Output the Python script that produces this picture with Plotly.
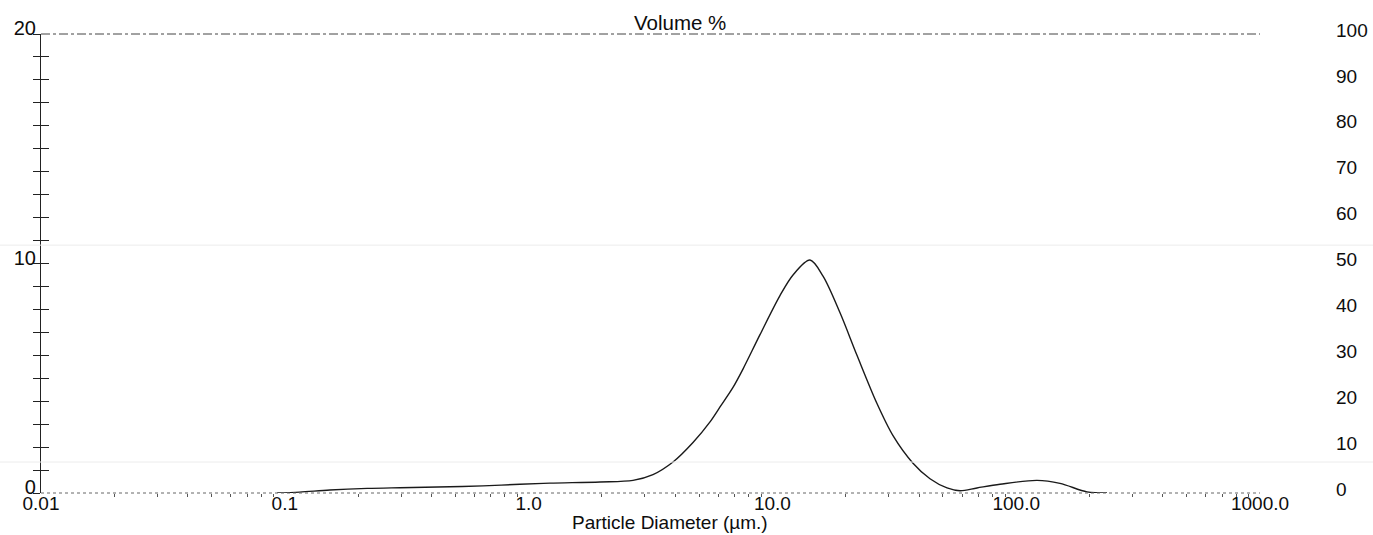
import plotly.graph_objects as go

# ---- data ----
diameter_um = [0.093, 0.115, 0.153, 0.218, 0.297, 0.476, 0.650, 0.922, 1.224, 1.963,
               2.681, 3.237, 3.911, 4.724, 5.548, 6.098, 6.893, 7.574, 8.895, 10.74,
               12.15, 14.26, 16.13, 18.94, 22.23, 26.85, 31.24, 37.73, 44.30, 52.03,
               58.82, 69.07, 85.83, 121.7, 151.2, 195.2, 235.7]
volume_pct = [0.0, 0.04, 0.13, 0.20, 0.23, 0.27, 0.31, 0.38, 0.43, 0.48,
              0.55, 0.80, 1.35, 2.20, 3.10, 3.75, 4.60, 5.40, 6.90, 8.60,
              9.50, 10.15, 9.45, 7.85, 6.00, 3.90, 2.50, 1.30, 0.62, 0.22,
              0.10, 0.22, 0.38, 0.55, 0.42, 0.05, 0.0]

x_tickvals = [0.01, 0.1, 1, 10, 100, 1000]
x_ticktext = ["0.01", "0.1", "1.0", "10.0", "100.0", "1000.0"]
left_tickvals = [0, 10, 20]
right_tickvals = [0, 10, 20, 30, 40, 50, 60, 70, 80, 90, 100]

FONT = "Liberation Sans, Arial, sans-serif"
INK = "#0d0d0d"

minor_x = []
for dec in [0.01, 0.1, 1, 10, 100]:
    for k in range(2, 10):
        minor_x.append(dec * k)

fig = go.Figure()
fig.add_trace(go.Scatter(x=diameter_um, y=volume_pct, mode="lines",
                         line=dict(color="#1a1a1a", width=1.4, shape="spline", smoothing=0.9),
                         hoverinfo="skip", showlegend=False))
# invisible companions so the overlay axes are drawn
fig.add_trace(go.Scatter(x=diameter_um, y=volume_pct, mode="lines", yaxis="y2",
                         line=dict(color="rgba(0,0,0,0)"), hoverinfo="skip", showlegend=False))
fig.add_trace(go.Scatter(x=diameter_um, y=volume_pct, mode="lines", yaxis="y3",
                         line=dict(color="rgba(0,0,0,0)"), hoverinfo="skip", showlegend=False))

fig.update_layout(
    width=1373, height=535,
    margin=dict(l=41, r=113, t=34, b=42, autoexpand=False),
    paper_bgcolor="white", plot_bgcolor="white",
    font=dict(family=FONT, size=19, color=INK),
    xaxis=dict(type="log", range=[-2, 3], tickvals=x_tickvals, ticktext=x_ticktext,
               showgrid=False, zeroline=False, showline=False, ticks="",
               ticklabelstandoff=-3, automargin=False,
               minor=dict(tickvals=minor_x, ticks="outside", ticklen=3,
                          tickcolor="#555", tickwidth=1, showgrid=False)),
    yaxis=dict(range=[0, 20], tickvals=left_tickvals, showgrid=False, zeroline=False,
               showline=True, linecolor="#222", linewidth=1.2, automargin=False,
               ticks="inside", ticklen=8, tickcolor="#222", tickwidth=1.2,
               ticklabelshift=-6, tickfont=dict(size=20),
               minor=dict(dtick=1, ticks="inside", ticklen=8, tickcolor="#222",
                          tickwidth=1.2, showgrid=False)),
    yaxis2=dict(overlaying="y", side="right", range=[0, 100], tickvals=right_tickvals,
                showgrid=False, zeroline=False, showline=False, ticks="",
                automargin=False, ticklabelstandoff=75, ticklabelshift=-4),
    yaxis3=dict(overlaying="y", side="left", range=[0, 20], dtick=1, automargin=False,
                showgrid=False, zeroline=False, showline=False, showticklabels=False,
                ticks="outside", ticklen=7, tickcolor="#222", tickwidth=1.2),
    shapes=[
        dict(type="line", xref="paper", yref="paper", x0=0, x1=1, y0=1, y1=1,
             line=dict(color="#444", width=1, dash="dashdot")),
        dict(type="line", xref="paper", yref="paper", x0=0, x1=1, y0=0, y1=0,
             line=dict(color="#666", width=1, dash="dot")),
        dict(type="line", xref="paper", yref="paper", x0=-0.04, x1=1.1, y0=0.540, y1=0.540,
             line=dict(color="#ececec", width=1)),
        dict(type="line", xref="paper", yref="paper", x0=-0.04, x1=1.1, y0=0.0675, y1=0.0675,
             line=dict(color="#ececec", width=1)),
    ],
    annotations=[
        dict(text="Volume %", xref="paper", yref="paper", x=0.524, y=1.026,
             xanchor="center", yanchor="middle", showarrow=False,
             font=dict(family=FONT, size=20.5, color=INK)),
        dict(text="Particle Diameter (µm.)", xref="paper", yref="paper", x=0.516, y=-0.065,
             xanchor="center", yanchor="middle", showarrow=False,
             font=dict(family=FONT, size=19, color=INK)),
    ],
)

fig.write_html("out.html")
